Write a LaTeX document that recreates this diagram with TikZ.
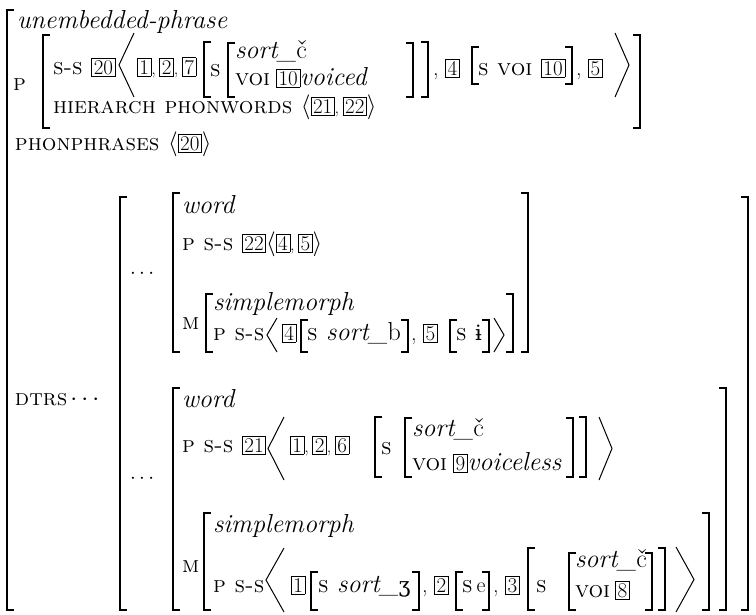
\documentclass[tikz,border=0pt]{standalone}
\usepackage{fontspec}
\newfontfamily\ipa{DejaVu Serif}
\tikzset{
  txt/.style={anchor=base west, inner sep=0pt, outer sep=0pt},
  brk/.style={line width=1.1pt},
  bigbrk/.style={line width=1.4pt},
  ang/.style={line width=1pt, line join=miter},
}
\newcommand\fsc{\normalfont\fontsize{23}{28}\selectfont\scshape}
\newcommand\fit{\normalfont\fontsize{26}{30}\selectfont\itshape}
\newcommand\frm{\normalfont\fontsize{22}{26}\selectfont}
\newcommand\up{\normalfont}
\newcommand\ip[1]{{\normalfont\ipa\fontsize{21}{24}\selectfont #1}}
\newcommand\tg[1]{{\setlength\fboxsep{1.8pt}\setlength\fboxrule{0.6pt}\fbox{\normalfont\fontsize{21}{23}\selectfont #1}}}
\newcommand\cm{{\normalfont\fontsize{18}{22}\selectfont,}\kern3.5pt}
\newcommand\T[4]{\node[txt] (#1) at (#2,#3) {#4};}
\newcommand\LB[4][brk]{\draw[#1] ({#2+7},#3) -- (#2,#3) -- (#2,#4) -- ({#2+7},#4);}
\newcommand\RB[4][brk]{\draw[#1] ({#2-7},#3) -- (#2,#3) -- (#2,#4) -- ({#2-7},#4);}
\newcommand\LA[4]{\draw[ang] (#2,#3) -- (#1,{(#3+#4)/2}) -- (#2,#4);}
\newcommand\RA[4]{\draw[ang] (#1,#3) -- (#2,{(#3+#4)/2}) -- (#1,#4);}
\begin{document}
\begin{tikzpicture}[x=1pt,y=-1pt]
\useasboundingbox (0,0) rectangle (756,614);
% outer structure
\LB[bigbrk]{7}{10}{610}
\T{type}{17}{28}{\fit unembedded-phrase}
\T{pl}{13}{90}{\fsc p}
\LB{43}{35}{128}
\T{ss1}{53}{74}{\fsc s-s \tg{20}}
\LA{119}{134}{33}{97}
\T{t127}{137}{74}{\tg{1}\cm\tg{2}\cm\tg{7}}
\LB{204}{42}{97}
\T{s1}{210}{76}{\fsc s}
\LB{228}{43}{97}
\T{sc1}{235}{58}{\fit sort\_\up č}
\T{v1}{235}{85}{\fsc voi\hspace{6pt}\tg{10}\fit voiced}
\RB{413}{43}{97}
\RB{428}{42}{97}
\T{t4}{433}{75}{\frm, \tg{4}}
\LB{472}{47}{84}
\T{sv}{478}{75}{\fsc s voi \tg{10}}
\RB{572}{47}{84}
\T{t5}{576}{75}{\frm, \tg{5}}
\RA{615}{629}{33}{97}
\RB{640}{35}{128}
\T{hier}{53}{113}{\fsc hierarch phonwords $\langle$\tg{21}\cm\tg{22}$\rangle$}
\T{pp}{15}{150}{\fsc phonphrases $\langle$\tg{20}$\rangle$}
% DTRS
\T{dtrs}{15}{405}{\fsc dtrs\hspace{3pt}$\cdots$}
\LB[bigbrk]{120}{197}{610}
\RB[bigbrk]{748}{197}{610}
% first daughter
\T{dots1}{130}{278}{\frm$\cdots$}
\LB{173}{193}{352}
\RB{528}{193}{352}
\T{w1}{182}{213}{\fit word}
\T{ps1}{182}{250}{\fsc p s-s \tg{22}$\langle$\tg{4}\cm\tg{5}$\rangle$}
\T{m1}{182}{329}{\fsc m}
\LB{206}{294}{352}
\RB{513}{294}{352}
\T{sm1}{213}{310}{\fit simplemorph}
\T{ps2}{213}{340}{\fsc p s-s}
\LA{267}{277}{318}{352}
\T{t4b}{282}{340}{\tg{4}}
\LB{301}{320}{352}
\T{sb}{307}{340}{\fsc s \fit sort\_\up b}
\RB{408}{320}{352}
\T{t5b}{411}{340}{\frm, \tg{5}}
\LB{450}{320}{352}
\T{si}{456}{340}{\fsc s \ip{ɨ}}
\RB{489}{320}{352}
\RA{494}{504}{318}{352}
% second daughter
\T{dots2}{130}{483}{\frm$\cdots$}
\LB{173}{388}{610}
\RB{726}{388}{610}
\T{w2}{182}{407}{\fit word}
\T{ps3}{182}{452}{\fsc p s-s \tg{21}}
\LA{268}{284}{417}{480}
\T{t126}{290}{452}{\tg{1}\cm\tg{2}\cm\tg{6}}
\LB{375}{417}{477}
\T{s2}{381}{454}{\fsc s}
\LB{405}{418}{477}
\T{sc2}{412}{436}{\fit sort\_\up č}
\T{v2}{412}{470}{\fsc voi\hspace{6pt}\tg{9}\fit voiceless}
\RB{573}{418}{477}
\RB{586}{417}{477}
\RA{599}{612}{417}{480}
\T{m2}{182}{572}{\fsc m}
\LB{204}{513}{610}
\RB{709}{513}{610}
\T{sm2}{213}{532}{\fit simplemorph}
\T{ps4}{213}{592}{\fsc p s-s}
\LA{266}{284}{548}{612}
\T{t1c}{291}{592}{\tg{1}}
\LB{311}{572}{610}
\T{sz}{318}{592}{\fsc s \fit sort\_\ip{ʒ}}
\RB{419}{572}{610}
\T{t2c}{422}{592}{\frm, \tg{2}}
\LB{456}{572}{610}
\T{se}{462}{592}{\fsc s\hspace{4pt}\frm e}
\RB{489}{572}{610}
\T{t3c}{493}{592}{\frm, \tg{3}}
\LB{528}{548}{610}
\T{s3}{536}{592}{\fsc s}
\LB{569}{553}{610}
\T{sc3}{575}{567}{\fit sort\_\up č}
\T{v3}{575}{597}{\fsc voi\hspace{5pt}\tg{8}}
\RB{652}{553}{610}
\RB{665}{548}{610}
\RA{676}{694}{547}{612}
\end{tikzpicture}
\end{document}
